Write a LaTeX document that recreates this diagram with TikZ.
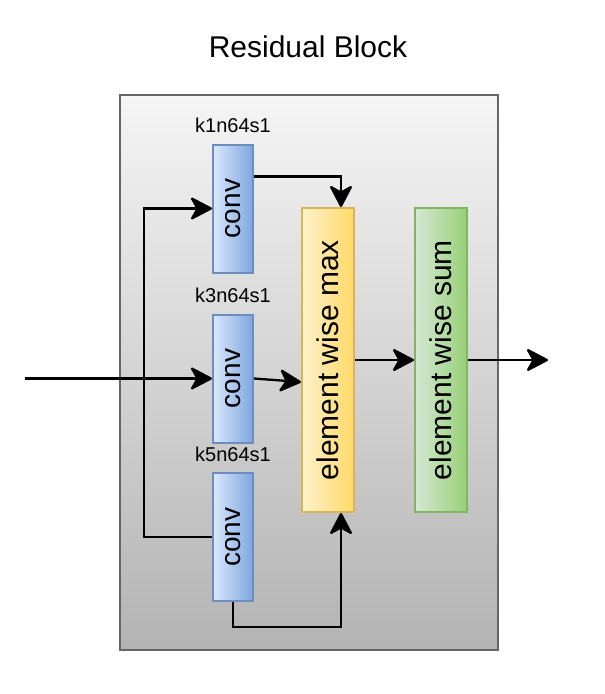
\documentclass[tikz,border=0pt]{standalone}
\usepackage{fontspec}
\usepackage{graphicx}
\setmainfont{Liberation Sans}
\usetikzlibrary{arrows.meta}
\definecolor{convl}{HTML}{DAE8FC}
\definecolor{convr}{HTML}{7EA6E0}
\definecolor{convd}{HTML}{6C8EBF}
\definecolor{maxl}{HTML}{FFF2CC}
\definecolor{maxr}{HTML}{FFD966}
\definecolor{maxd}{HTML}{D6B656}
\definecolor{suml}{HTML}{D5E8D4}
\definecolor{sumr}{HTML}{97D077}
\definecolor{sumd}{HTML}{82B366}
\definecolor{blockt}{HTML}{F5F5F5}
\definecolor{blockb}{HTML}{B3B3B3}
\definecolor{blockd}{HTML}{666666}
\newcommand\convblock[3]{% name, tag, centre y
\node[convbox] (#1) at (233,#3) {\rotatebox{90}{conv}};
\node[tag] (#1tag) at (233,#3-83) {#2};}

\begin{document}
\begin{tikzpicture}[x=1pt,y=-1pt,
    convbox/.style={draw=convd,line width=2pt,left color=convl,right color=convr,
      minimum width=40pt,minimum height=128pt,inner sep=0pt,
      font=\fontsize{28}{32}\selectfont},
    opbox/.style={line width=2pt,minimum width=52pt,minimum height=304pt,inner sep=0pt,
      font=\fontsize{30}{34}\selectfont},
    tag/.style={font=\fontsize{20}{24}\selectfont,inner sep=0pt},
    arr/.style={line width=2.3pt,-{Stealth[length=24pt,width=25pt,inset=7pt,round]}}]
      \useasboundingbox (0,0) rectangle (605,694);
      \node (title) at (308,47) {\fontsize{30}{36}\selectfont Residual Block};
      \draw[draw=blockd,line width=2.5pt,top color=blockt,bottom color=blockb]
        (120,95) rectangle (498,650);

      \convblock{c1}{k1n64s1}{208.5}
      \convblock{c2}{k3n64s1}{378.5}
      \convblock{c3}{k5n64s1}{537}

      \node[opbox,draw=maxd,left color=maxl,right color=maxr] (mx) at (328,360)
        {\rotatebox{90}{element wise max}};
      \node[opbox,draw=sumd,left color=suml,right color=sumr] (sm) at (441,360)
        {\rotatebox{90}{element wise sum}};

      \coordinate (in) at (25,378.5);
      \coordinate (out) at (548,360);

      \draw[arr] (in) -- (c2.west);
      \draw[arr] (c3.west) -- ++(-68,0) |- (c1.west);
      \draw[arr] ([yshift=32pt]c1.east) -| ([xshift=13pt]mx.north);
      \draw[arr] (c2.east) -- ([yshift=-22pt]mx.west);
      \draw[arr] (c3.south) -- ++(0,25) -| ([xshift=13pt]mx.south);
      \draw[arr] (mx.east) -- (sm.west);
      \draw[arr] (sm.east) -- (out);
\end{tikzpicture}
\end{document}
